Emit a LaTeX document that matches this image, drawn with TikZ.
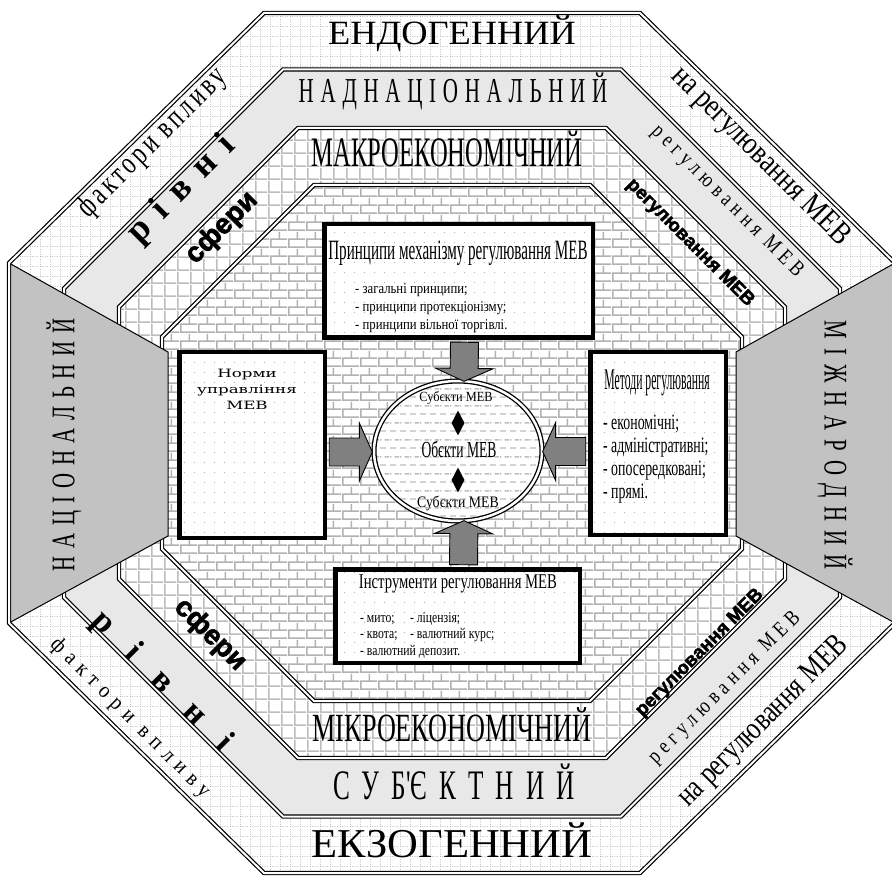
\documentclass[tikz,border=0pt]{standalone}
\usepackage{fontspec}
\setmainfont{Liberation Serif}
\newfontfamily\sansbold[FakeBold=2]{Liberation Sans Bold}
\newfontfamily\widefont{DejaVu Serif}
\usetikzlibrary{calc,patterns,shapes.geometric}

\definecolor{bandgray}{gray}{0.91}
\definecolor{sidegray}{gray}{0.76}
\definecolor{arrowgray}{gray}{0.5}
\definecolor{dotgray}{gray}{0.68}
\definecolor{gridgray}{gray}{0.74}
\definecolor{mortar}{gray}{0.7}

% fill patterns
\pgfdeclarepatternformonly{fieldgrid}{\pgfpointorigin}{\pgfpoint{10pt}{10pt}}{\pgfpoint{10pt}{10pt}}{%
  \pgfsetlinewidth{0.9pt}\pgfsetdash{{1pt}{1.5pt}}{0pt}
  \pgfpathmoveto{\pgfpoint{0pt}{0.5pt}}\pgfpathlineto{\pgfpoint{10pt}{0.5pt}}
  \pgfpathmoveto{\pgfpoint{0.5pt}{0pt}}\pgfpathlineto{\pgfpoint{0.5pt}{10pt}}
  \pgfusepath{stroke}}
\pgfdeclarepatternformonly{cellgrid}{\pgfpointorigin}{\pgfpoint{12.5pt}{12.5pt}}{\pgfpoint{12.5pt}{12.5pt}}{%
  \pgfsetlinewidth{1.6pt}
  \pgfpathmoveto{\pgfpoint{0pt}{0.8pt}}\pgfpathlineto{\pgfpoint{12.5pt}{0.8pt}}
  \pgfpathmoveto{\pgfpoint{0.8pt}{0pt}}\pgfpathlineto{\pgfpoint{0.8pt}{12.5pt}}
  \pgfusepath{stroke}}
\pgfdeclarepatternformonly{brickwall}{\pgfpointorigin}{\pgfpoint{18pt}{17pt}}{\pgfpoint{18pt}{17pt}}{%
  \pgfsetlinewidth{1.6pt}
  \pgfpathmoveto{\pgfpoint{0pt}{0.8pt}}\pgfpathlineto{\pgfpoint{18pt}{0.8pt}}
  \pgfpathmoveto{\pgfpoint{0pt}{9.3pt}}\pgfpathlineto{\pgfpoint{18pt}{9.3pt}}
  \pgfpathmoveto{\pgfpoint{0.8pt}{0.8pt}}\pgfpathlineto{\pgfpoint{0.8pt}{9.3pt}}
  \pgfpathmoveto{\pgfpoint{9.8pt}{9.3pt}}\pgfpathlineto{\pgfpoint{9.8pt}{17pt}}
  \pgfusepath{stroke}}
\pgfdeclarepatternformonly{boxdots}{\pgfpointorigin}{\pgfpoint{10pt}{10pt}}{\pgfpoint{10pt}{10pt}}{%
  \pgfpathcircle{\pgfpoint{5pt}{5pt}}{0.65pt}
  \pgfusepath{fill}}
\pgfdeclarepatternformonly{ovaldash}{\pgfpointorigin}{\pgfpoint{10pt}{17pt}}{\pgfpoint{10pt}{17pt}}{%
  \pgfsetlinewidth{1.5pt}
  \pgfpathmoveto{\pgfpoint{0pt}{4.2pt}}\pgfpathlineto{\pgfpoint{6.5pt}{4.2pt}}
  \pgfpathmoveto{\pgfpoint{5pt}{12.7pt}}\pgfpathlineto{\pgfpoint{10pt}{12.7pt}}
  \pgfpathmoveto{\pgfpoint{0pt}{12.7pt}}\pgfpathlineto{\pgfpoint{1.5pt}{12.7pt}}
  \pgfusepath{stroke}}

% octagon round (452,443): half width, half height, corner cut in x and in y
\newcommand{\octagon}[4]{(452-#1+#3,443-#2) -- (452+#1-#3,443-#2) -- (452+#1,443-#2+#4) -- (452+#1,443+#2-#4) -- (452+#1-#3,443+#2) -- (452-#1+#3,443+#2) -- (452-#1,443+#2-#4) -- (452-#1,443-#2+#4) -- cycle}

% block arrow from #1 to #2
\newcommand{\blockarrow}[2]{%
  \coordinate (aa) at #1;
  \coordinate (ab) at #2;
  \coordinate (ah) at ($(ab)!13pt!(aa)$);
  \draw[blockarr] ($(aa)!14pt!90:(ab)$) -- ($(ah)!14pt!90:(ab)$) -- ($(ah)!29pt!90:(ab)$) -- (ab)
    -- ($(ah)!29pt!-90:(ab)$) -- ($(ah)!14pt!-90:(ab)$) -- ($(aa)!14pt!-90:(ab)$) -- cycle;}

\tikzset{
  frame/.style={draw=black, double=white, line width=1.2pt, double distance=2pt},
  outerband/.style={preaction={fill=white}, pattern=fieldgrid, pattern color=dotgray},
  midband/.style={fill=bandgray},
  innerband/.style={preaction={fill=white}, pattern=cellgrid, pattern color=gridgray},
  brickarea/.style={preaction={fill=white}, pattern=brickwall, pattern color=mortar},
  sidepanel/.style={fill=sidegray, draw=black, line width=1pt},
  box/.style={draw=black, line width=4.5pt, preaction={fill=white}, pattern=boxdots, pattern color=dotgray, inner sep=0pt},
  blockarr/.style={fill=arrowgray, draw=black, line width=0.9pt, line join=miter},
}

\begin{document}
\begin{tikzpicture}[x=1pt, y=-1pt]
  \useasboundingbox (0,0) rectangle (892,877);
  \clip (0,0) rectangle (892,877);

  % bands
  \path[outerband] \octagon{443}{430}{255}{250};
  \path[midband] \octagon{388}{373.5}{219}{219};
  \path[innerband] \octagon{333}{315}{179}{179};
  \path[brickarea] \octagon{290}{258}{152}{152};
  \path[frame] \octagon{388}{373.5}{219}{219};
  \path[frame] \octagon{333}{315}{179}{179};
  \path[frame] \octagon{290}{258}{152}{152};

  % side panels
  \path[sidepanel] (9,263) -- (168,352) -- (168,536) -- (9,623) -- cycle;
  \path[sidepanel] (895,263) -- (736,352) -- (736,536) -- (895,623) -- cycle;
  \path[frame] \octagon{443}{430}{255}{250};

  % horizontal band labels
  \node[font={\fontsize{34}{34}\selectfont}, xscale=1.07, anchor=base] (endo) at (452,45) {ЕНДОГЕННИЙ};
  \node[font={\fontsize{41}{41}\selectfont}, xscale=1.04, anchor=base] (exo) at (452,857) {ЕКЗОГЕННИЙ};
  \node[font={\fontsize{35}{35}\selectfont\addfontfeatures{LetterSpace=32}}, xscale=0.6, anchor=base] (supra) at (453,103) {НАДНАЦІОНАЛЬНИЙ};
  \node[font={\fontsize{42}{42}\selectfont\addfontfeatures{LetterSpace=48}}, xscale=0.6, anchor=base] (subj) at (454,799) {СУБ\textquotesingle ЄКТНИЙ};
  \node[font={\fontsize{42}{42}\selectfont}, xscale=0.585, anchor=base] (macro) at (447,167) {МАКРОЕКОНОМІЧНИЙ};
  \node[font={\fontsize{40}{40}\selectfont}, xscale=0.655, anchor=base] (micro) at (452,741) {МІКРОЕКОНОМІЧНИЙ};

  % side labels
  \node[font={\fontsize{33}{33}\selectfont\addfontfeatures{LetterSpace=37}}, rotate=90, xscale=0.63] (natl) at (64,445) {НАЦІОНАЛЬНИЙ};
  \node[font={\fontsize{33}{33}\selectfont\addfontfeatures{LetterSpace=43}}, rotate=-90, xscale=0.63] (intl) at (835,445) {МІЖНАРОДНИЙ};

  % diagonal labels, upper left
  \node[font={\fontsize{32}{32}\selectfont\addfontfeatures{LetterSpace=15}}, rotate=45, xscale=0.72] (tlfact) at (153,143) {фактори впливу};
  \node[font={\fontsize{36}{36}\selectfont\bfseries\addfontfeatures{LetterSpace=40}}, rotate=45] (tllev) at (182,190) {рівні};
  \node[font={\fontsize{28}{28}\selectfont\sansbold}, rotate=45] (tlsph) at (222,228) {сфери};
  % upper right
  \node[font={\fontsize{32}{32}\selectfont}, rotate=-45, xscale=0.82] (trfact) at (760,157) {на регулювання МЕВ};
  \node[font={\fontsize{22}{22}\selectfont\addfontfeatures{LetterSpace=29}}, rotate=-45, xscale=0.8] (trlev) at (727,202) {регулювання МЕВ};
  \node[font={\fontsize{19}{19}\selectfont\sansbold}, rotate=-45] (trsph) at (690,243) {регулювання МЕВ};
  % lower left
  \node[font={\fontsize{22}{22}\selectfont\addfontfeatures{LetterSpace=35}}, rotate=-45, xscale=0.9] (blfact) at (130,718) {фактори впливу};
  \node[font={\fontsize{34}{34}\selectfont\bfseries\addfontfeatures{LetterSpace=80}}, rotate=-45] (bllev) at (162,682) {рівні};
  \node[font={\fontsize{28}{28}\selectfont\sansbold}, rotate=-45] (blsph) at (210,635) {сфери};
  % lower right
  \node[font={\fontsize{19}{19}\selectfont\sansbold}, rotate=45] (brsph) at (700,653) {регулювання МЕВ};
  \node[font={\fontsize{22}{22}\selectfont\addfontfeatures{LetterSpace=29}}, rotate=45, xscale=0.8] (brlev) at (725,688) {регулювання МЕВ};
  \node[font={\fontsize{32}{32}\selectfont}, rotate=45, xscale=0.78] (brfact) at (764,722) {на регулювання МЕВ};

  % principles
  \node[box, minimum width=268.5pt, minimum height=113.5pt] (princ) at (458.5,281) {};
  \node[font={\fontsize{28}{28}\selectfont}, xscale=0.54, anchor=base] (princhead) at (458,260) {Принципи механізму регулювання МЕВ};
  \node[font={\fontsize{15}{18}\selectfont}, xscale=0.85, align=left, anchor=north west, inner sep=0pt] (princlist) at (355,283.5) {- загальні принципи;\\- принципи протекціонізму;\\- принципи вільної торгівлі.};

  % norms
  \node[box, minimum width=145.5pt, minimum height=185.5pt] (norms) at (252,445) {};
  \node[font={\widefont\fontsize{11.5}{16}\selectfont}, xscale=1.45, align=center, anchor=north, inner sep=0pt] (normstext) at (247,368.5) {Норми\\управління\\МЕВ};

  % methods
  \node[box, minimum width=135.5pt, minimum height=182.5pt] (methods) at (658,443.5) {};
  \node[font={\fontsize{30}{30}\selectfont}, xscale=0.39, anchor=base west] (methhead) at (603,389) {Методи регулювання};
  \node[font={\fontsize{22}{23}\selectfont}, xscale=0.63, align=left, anchor=north west, inner sep=0pt] (methlist) at (603,415) {- економічні;\\- адміністративні;\\- опосередковані;\\- прямі.};

  % instruments
  \node[box, minimum width=244.5pt, minimum height=93.5pt] (instr) at (457.5,616) {};
  \node[font={\fontsize{21}{21}\selectfont}, xscale=0.7, anchor=base] (instrhead) at (458,588) {Інструменти регулювання МЕВ};
  \node[font={\fontsize{15}{16.5}\selectfont}, xscale=0.78, align=left, anchor=north west, inner sep=0pt] (instrlist) at (360,612) {\makebox[64pt][l]{- мито;}- ліцензія;\\\makebox[64pt][l]{- квота;}- валютний курс;\\- валютний депозит.};

  % objects of regulation
  \node[ellipse, draw=black, double=white, line width=1.3pt, double distance=2.5pt, preaction={fill=white}, pattern=ovaldash, pattern color=gridgray, minimum width=168pt, minimum height=140pt, inner sep=0pt] (core) at (458,451) {};
  \node[font={\fontsize{14}{14}\selectfont}, xscale=0.88, anchor=base] (subjup) at (456,401) {Субєкти МЕВ};
  \node[diamond, fill=black, minimum width=13pt, minimum height=25pt, inner sep=0pt] (dup) at (458,423) {};
  \node[font={\fontsize{23}{23}\selectfont}, xscale=0.59, anchor=base] (objc) at (459,457) {Обєкти МЕВ};
  \node[diamond, fill=black, minimum width=13pt, minimum height=25pt, inner sep=0pt] (ddown) at (458,480) {};
  \node[font={\fontsize{16}{16}\selectfont}, xscale=0.86, anchor=base] (subjdown) at (458,507) {Субєкти МЕВ};

  % arrows into the ellipse
  \blockarrow{($(princ.south)+(6,2.25)$)}{($(core.north)+(6,1)$)}
  \blockarrow{($(instr.north)+(6,-2.25)$)}{($(core.south)+(6,-1)$)}
  \blockarrow{($(norms.east)+(2.25,7)$)}{($(core.west)+(-1,1)$)}
  \blockarrow{($(methods.west)+(-2.25,8)$)}{($(core.east)+(0,0.5)$)}
\end{tikzpicture}
\end{document}
